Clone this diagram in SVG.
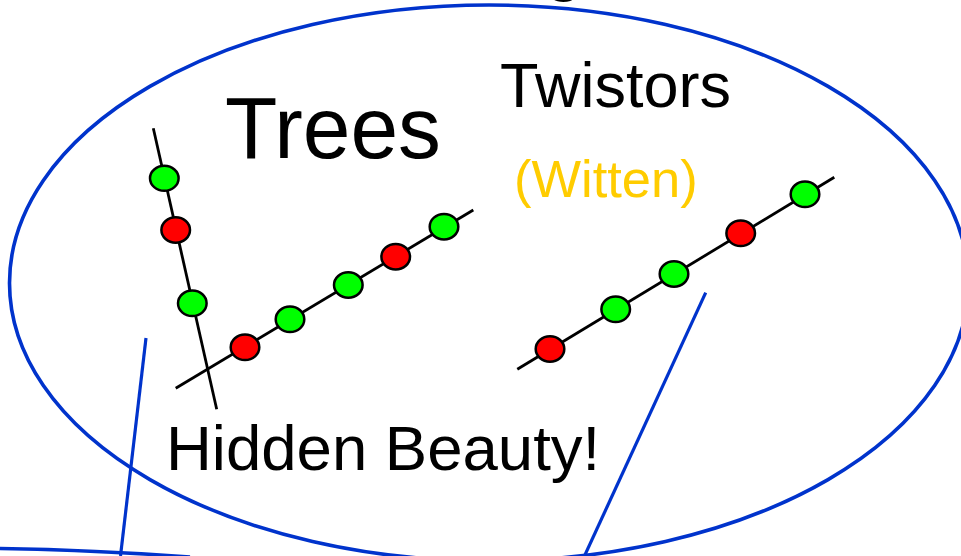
<svg xmlns="http://www.w3.org/2000/svg" width="961" height="556" viewBox="0 0 961 556">
<style>
.blue{fill:none;stroke:#0033CC;stroke-width:3.6}
.thin{fill:none;stroke:#0033CC;stroke-width:3.2}
.stem{stroke:#000;stroke-width:2.8;fill:none}
.g{fill:#00FF00;stroke:#000;stroke-width:2.5}
.r{fill:#FF0000;stroke:#000;stroke-width:2.5}
.t{font-family:"Liberation Sans",Arial,sans-serif;fill:#000}
</style>
<rect width="961" height="556" fill="#fff"/>
<text class="t" x="544" y="-13" font-size="72">g</text>
<g id="bubble">
<ellipse class="blue" cx="489" cy="283" rx="479.5" ry="278"/>
</g>
<g id="lower-shape">
<path class="blue" d="M-2,548.5 Q95,550 190,557"/>
</g>
<g id="connectors">
<line class="thin" x1="146" y1="338" x2="120.5" y2="556"/>
<line class="thin" x1="705.7" y1="292.7" x2="584" y2="557"/>
</g>
<g id="trees">
<line class="stem" x1="153.3" y1="128.3" x2="216.7" y2="409.3"/>
<line class="stem" x1="175.7" y1="388.3" x2="473.3" y2="210"/>
<ellipse class="g" cx="164.3" cy="178.3" rx="14.3" ry="12.5"/>
<ellipse class="r" cx="175.7" cy="230" rx="14.3" ry="12.8"/>
<ellipse class="g" cx="192.3" cy="303.3" rx="14.3" ry="12.8"/>
<ellipse class="r" cx="245" cy="347.3" rx="14.3" ry="12.8"/>
<ellipse class="g" cx="290" cy="319.3" rx="14.3" ry="12.8"/>
<ellipse class="g" cx="348.3" cy="285" rx="14.3" ry="12.8"/>
<ellipse class="r" cx="395.7" cy="256.7" rx="14.3" ry="12.8"/>
<ellipse class="g" cx="444" cy="226.7" rx="14.3" ry="12.8"/>
</g>
<g id="twistor-line">
<line class="stem" x1="517.3" y1="369.3" x2="834.3" y2="177.3"/>
<ellipse class="r" cx="550" cy="349" rx="14.3" ry="12.8"/>
<ellipse class="g" cx="615.7" cy="309.3" rx="14.3" ry="12.8"/>
<ellipse class="g" cx="674" cy="274" rx="14.3" ry="12.8"/>
<ellipse class="r" cx="740.7" cy="233.3" rx="14.3" ry="12.8"/>
<ellipse class="g" cx="805" cy="194.3" rx="14.3" ry="12.8"/>
</g>
<g id="labels">
<text class="t" x="225" y="158.3" font-size="87" textLength="216" lengthAdjust="spacingAndGlyphs">Trees</text>
<text class="t" x="500" y="106.7" font-size="63">Twistors</text>
<text class="t" x="514" y="196.7" font-size="52.5" style="fill:#FFCC00">(Witten)</text>
<text class="t" x="166" y="470" font-size="63.5">Hidden Beauty!</text>
</g>
</svg>
